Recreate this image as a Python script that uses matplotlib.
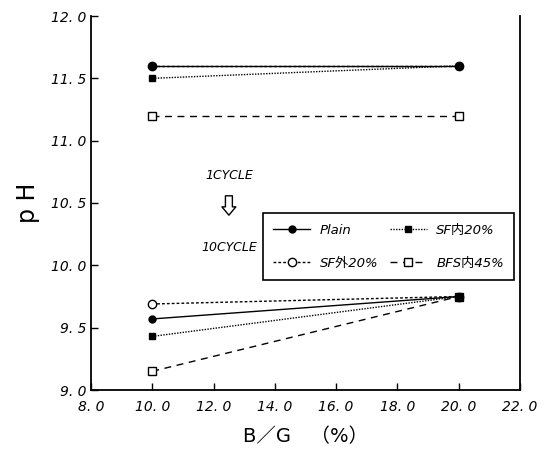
import matplotlib.pyplot as plt

plt.rcParams['font.family'] = ['DejaVu Sans', 'Noto Sans CJK JP']

bg = [10.0, 20.0]

# 1 cycle
plain_1 = [11.60, 11.60]
sf_out_1 = [11.60, 11.60]
sf_in_1 = [11.50, 11.60]
bfs_in_1 = [11.20, 11.20]

# 10 cycle
plain_10 = [9.57, 9.75]
sf_out_10 = [9.69, 9.75]
sf_in_10 = [9.43, 9.75]
bfs_in_10 = [9.15, 9.75]

labels = ['Plain', 'SF外20%', 'SF内20%', 'BFS内45%']
xticks = [8, 10, 12, 14, 16, 18, 20, 22]
yticks = [9.0, 9.5, 10.0, 10.5, 11.0, 11.5, 12.0]

styles = {
    'Plain': dict(ls='-', marker='o', mfc='black', mec='black', ms=5, zorder=4),
    'SF外20%': dict(ls=(0, (2, 1.5)), marker='o', mfc='white', mec='black', ms=6, zorder=2),
    'SF内20%': dict(ls=(0, (1, 1)), marker='s', mfc='black', mec='black', ms=5, zorder=5),
    'BFS内45%': dict(ls=(0, (5, 4)), marker='s', mfc='white', mec='black', ms=6, zorder=3),
}

fig = plt.figure(figsize=(5.5, 4.51), dpi=100)
ax = fig.add_axes([91 / 550, 1 - 390 / 451, (520 - 91) / 550, (390 - 16) / 451])

series_1 = [plain_1, sf_out_1, sf_in_1, bfs_in_1]
series_10 = [plain_10, sf_out_10, sf_in_10, bfs_in_10]
handles = []
for lab, y1, y10 in zip(labels, series_1, series_10):
    st = styles[lab]
    h, = ax.plot(bg, y10, color='black', lw=1.0, label=lab, **st)
    ax.plot(bg, y1, color='black', lw=1.0, **st)
    handles.append(h)

ax.set_xlim(8, 22)
ax.set_ylim(9, 12)
ax.set_xticks(xticks)
ax.set_xticklabels([f'{v:.1f}'.replace('.', '. ') for v in xticks],
                   style='italic', fontsize=10)
ax.set_yticks(yticks)
ax.set_yticklabels([f'{v:.1f}'.replace('.', '. ') for v in yticks],
                   style='italic', fontsize=10)
ax.tick_params(direction='in', length=5, width=1)
ax.tick_params(axis='x', pad=7)
ax.spines['top'].set_visible(False)
for s in ['left', 'bottom', 'right']:
    ax.spines[s].set_linewidth(1.3)

ax.set_ylabel('p H', fontsize=17, labelpad=8)
ax.set_xlabel('B／G　（%）', fontsize=14, labelpad=10)

ax.text(12.5, 10.72, '1CYCLE', style='italic', fontsize=9, ha='center', va='center')
ax.annotate('', xy=(12.5, 10.38), xytext=(12.5, 10.58),
            arrowprops=dict(arrowstyle='simple,head_width=1.0,head_length=0.6,tail_width=0.5',
                            fc='white', ec='black', lw=1))
ax.text(12.5, 10.14, '10CYCLE', style='italic', fontsize=9, ha='center', va='center')

leg = ax.legend(handles, labels, ncol=2,
                loc='upper left', bbox_to_anchor=(0.385, 0.49), frameon=True,
                fancybox=False, edgecolor='black', framealpha=1,
                prop=dict(style='italic', size=9.5), handlelength=2.8,
                columnspacing=0.9, labelspacing=1.5, borderpad=0.8,
                handletextpad=0.7)
leg.get_frame().set_linewidth(1.2)

fig.savefig('out.png', dpi=100)
